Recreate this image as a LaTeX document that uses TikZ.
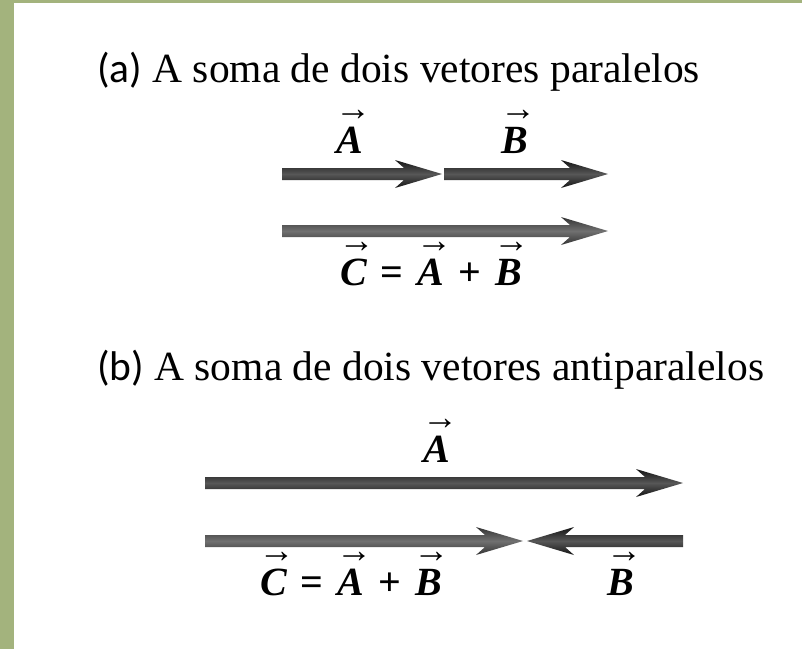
\documentclass[tikz,border=0pt]{standalone}
\usepackage{fontspec}
\setmainfont{Liberation Serif}
\newfontfamily\lblfont{Carlito}
\usetikzlibrary{calc}
\definecolor{frame}{HTML}{A3B37D}
\newsavebox\vvbox
\newcommand{\vv}[1]{\sbox\vvbox{\bfseries\itshape #1}%
  \rlap{\hbox to\wd\vvbox{\hss\kern6pt\raisebox{33pt}{\fontsize{36}{36}\selectfont →}\hss}}\usebox\vvbox}
\newcommand{\op}[1]{\hspace{14pt}\textbf{#1}\hspace{14pt}}
\newcommand{\fatarr}[4]{%
  \shade[#4] ($(#1)+(0,-6)$) -- ($(#2)+({#3*-38},-6)$) -- ($(#2)+({#3*-47},-14)$) -- (#2)
    -- ($(#2)+({#3*-47},14)$) -- ($(#2)+({#3*-38},6)$) -- ($(#1)+(0,6)$) -- cycle;}
\tikzset{
  heading/.style={anchor=base west, inner sep=0pt, font=\fontsize{41.5}{48}\selectfont},
  vlabel/.style={anchor=base, inner sep=0pt, font=\fontsize{40}{46}\selectfont},
  darkarr/.style={top color=black!92, bottom color=black!92, middle color=black!66},
  lightarr/.style={top color=black!80, bottom color=black!80, middle color=black!56},
}
\begin{document}
\begin{tikzpicture}[x=1pt,y=-1pt]
\useasboundingbox (0,0) rectangle (802,649);
\fill[frame] (0,0) rectangle (802,3);
\fill[frame] (0,0) rectangle (14,649);
% (a)
\node[heading] (ha) at (97,82) {{\lblfont (a)} A soma de dois vetores paralelos};
\coordinate (a1) at (282,174);
\coordinate (a2) at (442,174);
\coordinate (b1) at (444,174);
\coordinate (b2) at (608,174);
\coordinate (c1) at (282,231);
\coordinate (c2) at (608,231);
\fatarr{a1}{a2}{1}{darkarr}
\fatarr{b1}{b2}{1}{darkarr}
\fatarr{c1}{c2}{1}{lightarr}
\node[vlabel] (la) at (350,153) {\vv{A}};
\node[vlabel] (lb) at (515,153) {\vv{B}};
\node[vlabel] (lc) at (431,285) {\vv{C}\op{=}\vv{A}\op{+}\vv{B}};
% (b)
\node[heading] (hb) at (97,380) {{\lblfont (b)} A soma de dois vetores antiparalelos};
\coordinate (pa1) at (205,483);
\coordinate (pa2) at (683,483);
\coordinate (pc1) at (205,541);
\coordinate (pc2) at (523,541);
\coordinate (pb1) at (683,541);
\coordinate (pb2) at (527,541);
\fatarr{pa1}{pa2}{1}{darkarr}
\fatarr{pc1}{pc2}{1}{lightarr}
\fatarr{pb1}{pb2}{-1}{darkarr}
\node[vlabel] (lpa) at (437,462) {\vv{A}};
\node[vlabel] (lpc) at (351,595) {\vv{C}\op{=}\vv{A}\op{+}\vv{B}};
\node[vlabel] (lpb) at (621,595) {\vv{B}};
\end{tikzpicture}
\end{document}
